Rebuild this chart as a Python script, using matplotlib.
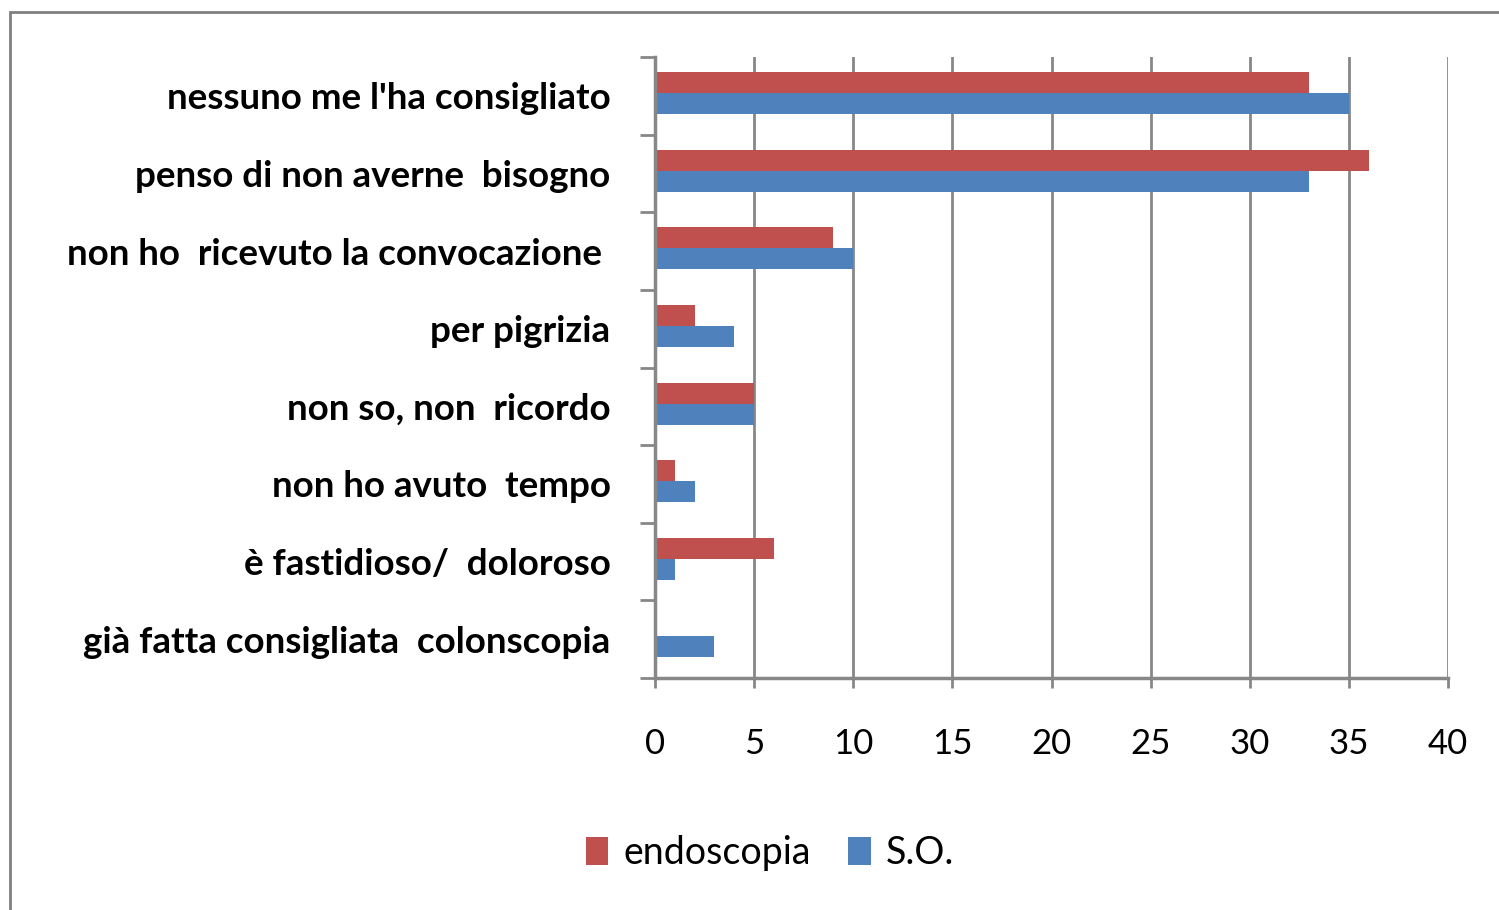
import matplotlib
matplotlib.use("Agg")
import matplotlib.pyplot as plt
from matplotlib.patches import Rectangle
import numpy as np

categories = [
    "nessuno me l'ha consigliato",
    "penso di non averne  bisogno",
    "non ho  ricevuto la convocazione ",
    "per pigrizia",
    "non so, non  ricordo",
    "non ho avuto  tempo",
    "è fastidioso/  doloroso",
    "già fatta consigliata  colonscopia",
]
endoscopia = [33, 36, 9, 2, 5, 1, 6, 0]
so = [35, 33, 10, 4, 5, 2, 1, 3]
xticks = [0, 5, 10, 15, 20, 25, 30, 35, 40]

RED = "#C0504D"
BLUE = "#4F81BD"
GRID = "#878787"

plt.rcParams['font.family'] = ['Lato', 'DejaVu Sans']

W, H = 1499, 910
fig = plt.figure(figsize=(W / 100, H / 100), dpi=100)
fig.patches.append(Rectangle((10 / W, 1 - 920 / H), 1500 / W, 908 / H,
                             transform=fig.transFigure, fill=False,
                             edgecolor="#808080", linewidth=2))

ax = fig.add_axes([655 / W, 1 - 678 / H, (1448 - 655) / W, (678 - 57) / H])
y = np.arange(len(categories))
h = 0.27
off = -0.035
ax.barh(y + off - h / 2, endoscopia, height=h, color=RED, label="endoscopia", zorder=3)
ax.barh(y + off + h / 2, so, height=h, color=BLUE, label="S.O.", zorder=3)

ax.set_xlim(0, 40)
ax.set_ylim(len(categories) - 0.5, -0.5)
ax.set_xticks(xticks)
ax.set_xticklabels([str(t) for t in xticks], fontsize=25)
ax.set_yticks(y)
ax.set_yticklabels(categories, fontsize=26.5, fontweight='bold')
ax.set_yticks(np.arange(len(categories) + 1) - 0.5, minor=True)
ax.tick_params(axis='y', which='major', length=0, pad=32)
ax.tick_params(axis='y', which='minor', length=11, width=2, color=GRID)
ax.tick_params(axis='x', which='major', length=7, width=2, color=GRID, pad=29)

ax.grid(axis='x', color=GRID, linewidth=2, zorder=0)
for s in ['top', 'right']:
    ax.spines[s].set_visible(False)
for s in ['left', 'bottom']:
    ax.spines[s].set_color(GRID)
    ax.spines[s].set_linewidth(2.5)
    ax.spines[s].set_zorder(4)

leg = fig.legend(loc='center', bbox_to_anchor=(770 / W, 1 - 853 / H), ncol=2,
                 frameon=False, fontsize=27, handlelength=0.6, handleheight=0.75,
                 handletextpad=0.4, columnspacing=1.0)

fig.savefig("out.png", dpi=100)
